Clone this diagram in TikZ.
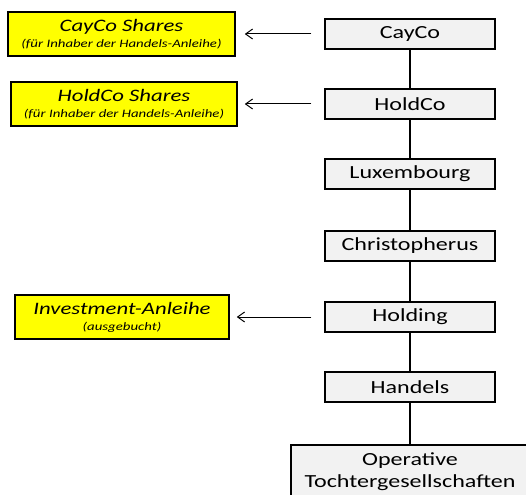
\documentclass[tikz,border=0pt]{standalone}
\usepackage{fontspec}
\setmainfont{Carlito}[FakeStretch=1.3]
\usetikzlibrary{arrows.meta}
\definecolor{boxgray}{HTML}{F2F2F2}
\definecolor{boxyellow}{HTML}{FFFF00}
\tikzset{
  entity/.style={draw=black, line width=1.5pt, fill=boxgray, minimum width=170pt, minimum height=30pt, inner sep=0pt, font=\fontsize{18.5}{20}\selectfont},
  security/.style={draw=black, line width=1.5pt, fill=boxyellow, minimum height=44pt, inner sep=0pt, align=center},
  link/.style={line width=1.5pt},
  arr/.style={line width=1pt, -{Straight Barb[length=7pt,width=10pt,line width=1pt]}}
}
\newcommand{\bigt}[1]{{\fontsize{17.5}{19}\selectfont\itshape #1}}
\newcommand{\smallt}[1]{{\fontsize{11.4}{13}\selectfont\itshape #1}}
\begin{document}
\begin{tikzpicture}[x=1pt,y=-1pt]
\useasboundingbox (0,0) rectangle (526,494);
\clip (0,0) rectangle (526,494);
\fill[white] (0,0) rectangle (526,494);
% gray chain
\node[entity] (cayco) at (410,34) {CayCo};
\node[entity] (holdco) at (410,104) {HoldCo};
\node[entity] (lux) at (410,174) {Luxembourg};
\node[entity] (chris) at (410,246) {Christopherus};
\node[entity] (holding) at (410,317) {Holding};
\node[entity] (handels) at (410,387) {Handels};
\node[entity, minimum width=238pt, minimum height=54pt, align=center, font=\fontsize{18.5}{22}\selectfont] (oper) at (410,472) {Operative\\Tochtergesellschaften};
% yellow boxes
\node[security, minimum width=227pt] (caysh) at (121.5,34) {\bigt{CayCo Shares}\\[4pt]\smallt{(für Inhaber der Handels-Anleihe)}};
\node[security, minimum width=226pt] (holdsh) at (124,104) {\bigt{HoldCo Shares}\\[4pt]\smallt{(für Inhaber der Handels-Anleihe)}};
\node[security, minimum width=214pt] (inv) at (122,317) {\bigt{Investment-Anleihe}\\[4pt]\smallt{(ausgebucht)}};
% chain links
\draw[link] (cayco) -- (holdco);
\draw[link] (holdco) -- (lux);
\draw[link] (lux) -- (chris);
\draw[link] (chris) -- (holding);
\draw[link] (holding) -- (handels);
\draw[link] (handels) -- (oper);
% arrows
\draw[arr, shorten <=13pt, shorten >=9pt] (cayco.west) -- (caysh.east);
\draw[arr, shorten <=13pt, shorten >=7pt] (holdco.west) -- (holdsh.east);
\draw[arr, shorten <=13pt, shorten >=7pt] (holding.west) -- (inv.east);
\end{tikzpicture}
\end{document}
